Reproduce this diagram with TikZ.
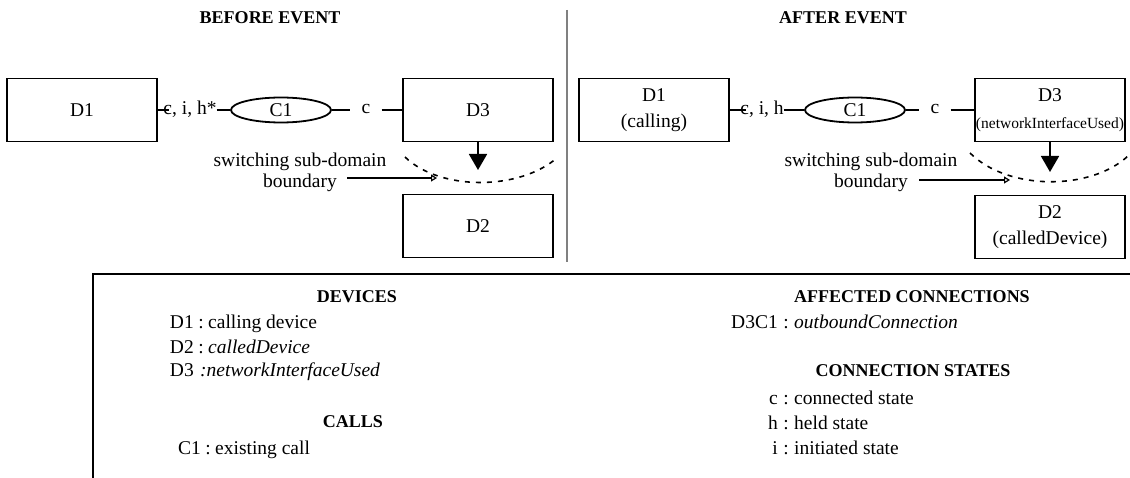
\documentclass[tikz,border=0pt]{standalone}
\usepackage{fontspec}
\setmainfont{Liberation Serif}
\usetikzlibrary{shapes.geometric,arrows.meta}
\newcommand\bodyfont{\fontsize{19.5}{26}\selectfont}
\newcommand\headfont{\fontsize{18}{20}\selectfont\bfseries}
\newcommand\smallfont{\fontsize{15.5}{18}\selectfont}
\tikzset{
  devbox/.style={draw, line width=1.8pt, minimum width=150pt, minimum height=63pt, inner sep=0pt, align=center, font=\bodyfont},
  callell/.style={draw, ellipse, line width=1.8pt, minimum width=100pt, minimum height=25pt, inner sep=0pt, font=\bodyfont},
  statelbl/.style={inner sep=0pt, font=\bodyfont},
  clbl/.style={inner xsep=11pt, inner ysep=0pt, font=\bodyfont},
  conn/.style={line width=1.8pt},
  downarrow/.style={line width=1.8pt, -{Triangle[width=18pt,length=16pt]}},
  bndarrow/.style={line width=1.6pt, -{Triangle[open,width=7pt,length=6pt,line width=1.2pt]}},
  bndarc/.style={line width=1.6pt, dash pattern=on 5pt off 6pt},
  heading/.style={inner sep=0pt, font=\headfont},
  txt/.style={inner sep=0pt, font=\bodyfont},
  swtxt/.style={inner sep=0pt, align=center, font=\fontsize{19.5}{21}\selectfont},
  divider/.style={draw=black!50, line width=2pt},
  legendline/.style={line width=2pt}
}
\begin{document}
\begin{tikzpicture}[x=1pt,y=-1pt]
\useasboundingbox (0,0) rectangle (1130,478);

% titles and divider
\node[heading] (tb) at (270,18) {BEFORE EVENT};
\node[heading] (ta) at (843,18) {AFTER EVENT};
\coordinate (divtop) at (567,10);
\coordinate (divbot) at (567,262);
\draw[divider] (divtop) -- (divbot);

% ---------- BEFORE ----------
\node[devbox] (D1L) at (82,110) {D1};
\node[devbox] (D3L) at (478,110) {D3};
\node[devbox] (D2L) at (478,226) {D2};
\node[callell] (C1L) at (281,110) {C1};
\node[statelbl] (ciL) at (190,109) {c, i, h*};
\node[clbl] (cL) at (366,109) {c};
\draw[conn] (D1L.east) -- ([xshift=6pt]ciL.west |- D1L.east);
\draw[conn] (ciL.east |- C1L.west) -- (C1L.west);
\draw[conn] (C1L.east) -- (cL.west |- C1L.east);
\draw[conn] (cL.east |- D3L.west) -- (D3L.west);
\coordinate (tipL) at (478,170);
\draw[downarrow] (D3L.south) -- (tipL);
\coordinate (arcLs) at (405,157);
\coordinate (arcLe) at (558,157);
\draw[bndarc] (arcLs) .. controls (440,191) and (520,191) .. (arcLe);
\node[swtxt] (swL) at (300,172) {switching sub-domain\\boundary};
\coordinate (bndLs) at (347,178);
\coordinate (bndLe) at (437,178);
\draw[bndarrow] (bndLs) -- (bndLe);

% ---------- AFTER ----------
\node[devbox] (D1R) at (654,110) {D1\\(calling)};
\node[devbox] (D3R) at (1050,110) {D3\\[1pt]{\smallfont (networkInterfaceUsed)}};
\node[devbox] (D2R) at (1050,227) {D2\\(calledDevice)};
\node[callell] (C1R) at (855,110) {C1};
\node[statelbl] (ciR) at (762,109) {c, i, h};
\node[clbl] (cR) at (935,109) {c};
\draw[conn] (D1R.east) -- ([xshift=6pt]ciR.west |- D1R.east);
\draw[conn] (ciR.east |- C1R.west) -- (C1R.west);
\draw[conn] (C1R.east) -- (cR.west |- C1R.east);
\draw[conn] (cR.east |- D3R.west) -- (D3R.west);
\coordinate (tipR) at (1050,172);
\draw[downarrow] (D3R.south) -- (tipR);
\coordinate (arcRs) at (970,153);
\coordinate (arcRe) at (1129,155);
\draw[bndarc] (arcRs) .. controls (1008,191) and (1092,191) .. (arcRe);
\node[swtxt] (swR) at (871,172) {switching sub-domain\\boundary};
\coordinate (bndRs) at (919,180);
\coordinate (bndRe) at (1010,180);
\draw[bndarrow] (bndRs) -- (bndRe);

% ---------- LEGEND ----------
\coordinate (lgTR) at (1130,274);
\coordinate (lgTL) at (93,274);
\coordinate (lgBL) at (93,478);
\draw[legendline] (lgTR) -- (lgTL) -- (lgBL);

\node[heading] (hDev) at (357,297) {DEVICES};
\node[txt, anchor=base east] (kD1) at (194,329) {D1};
\node[txt, anchor=base] (cD1) at (201,329) {:};
\node[txt, anchor=base west] (vD1) at (208,329) {calling device};
\node[txt, anchor=base east] (kD2) at (194,353) {D2};
\node[txt, anchor=base] (cD2) at (201,353) {:};
\node[txt, anchor=base west] (vD2) at (208,353) {\itshape calledDevice};
\node[txt, anchor=base east] (kD3) at (194,377) {D3};
\node[txt, anchor=base west] (vD3) at (200,377) {\itshape :networkInterfaceUsed};
\node[heading] (hCalls) at (353,422) {CALLS};
\node[txt, anchor=base east] (kC1) at (201,454) {C1};
\node[txt, anchor=base] (cC1) at (208,454) {:};
\node[txt, anchor=base west] (vC1) at (215,454) {existing call};

\node[heading] (hAff) at (912,297) {AFFECTED CONNECTIONS};
\node[txt, anchor=base east] (kD3C1) at (778,329) {D3C1};
\node[txt, anchor=base] (cD3C1) at (786,329) {:};
\node[txt, anchor=base west] (vD3C1) at (794,329) {\itshape outboundConnection};
\node[heading] (hStates) at (913,371) {CONNECTION STATES};
\node[txt, anchor=base east] (kc) at (778,404) {c};
\node[txt, anchor=base] (cc) at (786,404) {:};
\node[txt, anchor=base west] (vc) at (794,404) {connected state};
\node[txt, anchor=base east] (kh) at (778,429) {h};
\node[txt, anchor=base] (ch) at (786,429) {:};
\node[txt, anchor=base west] (vh) at (794,429) {held state};
\node[txt, anchor=base east] (ki) at (778,454) {i};
\node[txt, anchor=base] (ci) at (786,454) {:};
\node[txt, anchor=base west] (vi) at (794,454) {initiated state};
\end{tikzpicture}
\end{document}
